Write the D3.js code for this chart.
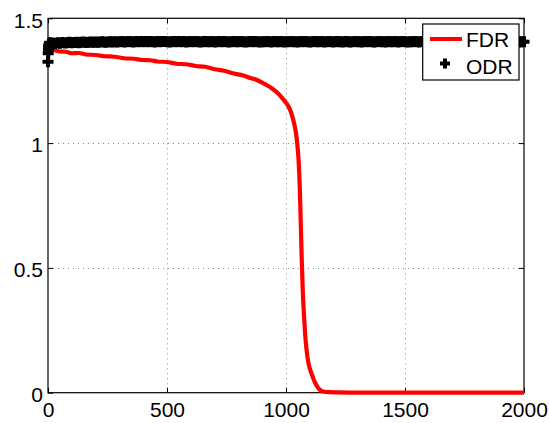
<!DOCTYPE html>
<html>
<head>
<meta charset="utf-8">
<script src="https://cdn.jsdelivr.net/npm/d3@7"></script>
<style>
  body { margin: 0; background: #fff; }
  svg { display: block; font-family: "Liberation Sans", Arial, Helvetica, sans-serif; }
</style>
</head>
<body>
<svg id="chart" width="549" height="423"></svg>
<script>
// ---- data ----
var xTicks = [0, 500, 1000, 1500, 2000];
var yTicks = [0, 0.5, 1, 1.5];
var yTickLabels = ["0", "0.5", "1", "1.5"];
var seriesNames = ["FDR", "ODR"];

// FDR (red line)
var fdrX = [0, 10, 25, 50, 75, 100, 130, 160, 200, 240, 280, 320, 360, 400, 430, 460, 500, 540, 580,
  620, 660, 700, 740, 780, 820, 850, 880, 910, 940, 970, 987, 1000, 1015, 1025, 1035, 1042, 1048,
  1053, 1058, 1062, 1066, 1070, 1075, 1080, 1086, 1094, 1103, 1112, 1120, 1128, 1136, 1145, 1160,
  1180, 1220, 1300, 1500, 2000];
var fdrY = [1.380, 1.375, 1.373, 1.367, 1.366, 1.360, 1.361, 1.355, 1.353, 1.348, 1.346, 1.340, 1.338,
  1.333, 1.332, 1.327, 1.325, 1.318, 1.316, 1.309, 1.306, 1.296, 1.290, 1.279, 1.271, 1.261, 1.252,
  1.237, 1.220, 1.196, 1.177, 1.162, 1.138, 1.112, 1.075, 1.040, 0.990, 0.930, 0.820, 0.680, 0.540,
  0.420, 0.320, 0.240, 0.175, 0.120, 0.088, 0.064, 0.045, 0.030, 0.018, 0.010, 0.004, 0.002, 0.001,
  0, 0, 0];

// ODR (black + markers): first iterations, then one value every 10 iterations from 10 to 2000
var odrHeadX = [0, 1, 2, 3, 4, 5, 6, 8];
var odrHeadY = [1.326, 1.360, 1.375, 1.385, 1.390, 1.395, 1.400, 1.402];
var odrStep = 10;
var odrY = [
  1.398,1.401,1.399,1.402,1.400,1.403,1.401,1.402,1.404,1.402,1.403,1.404,1.402,1.404,1.405,1.403,1.404,1.405,1.404,1.405,
  1.404,1.405,1.406,1.404,1.405,1.406,1.405,1.406,1.405,1.406,1.407,1.405,1.406,1.407,1.406,1.405,1.407,1.406,1.407,1.406,
  1.407,1.406,1.407,1.406,1.405,1.407,1.406,1.407,1.407,1.406,1.405,1.406,1.407,1.406,1.407,1.406,1.407,1.405,1.406,1.407,
  1.406,1.407,1.406,1.405,1.406,1.407,1.406,1.406,1.407,1.405,1.406,1.407,1.406,1.407,1.406,1.405,1.406,1.407,1.406,1.406,
  1.407,1.406,1.405,1.406,1.407,1.406,1.407,1.406,1.405,1.406,1.406,1.407,1.406,1.405,1.407,1.406,1.406,1.407,1.405,1.406,
  1.406,1.407,1.406,1.406,1.405,1.407,1.406,1.407,1.406,1.405,1.406,1.407,1.406,1.406,1.407,1.405,1.406,1.407,1.406,1.405,
  1.407,1.406,1.406,1.405,1.407,1.406,1.405,1.406,1.407,1.406,1.406,1.405,1.407,1.406,1.407,1.406,1.405,1.406,1.407,1.406,
  1.406,1.405,1.407,1.406,1.406,1.407,1.405,1.406,1.407,1.406,1.405,1.406,1.406,1.407,1.406,1.405,1.407,1.406,1.406,1.407,
  1.405,1.406,1.407,1.406,1.405,1.406,1.407,1.406,1.406,1.405,1.407,1.406,1.406,1.407,1.405,1.406,1.407,1.406,1.405,1.406,
  1.407,1.406,1.406,1.405,1.406,1.407,1.406,1.405,1.407,1.406,1.406,1.407,1.405,1.406,1.406,1.407,1.406,1.405,1.406,1.406
];

(function () {
  // ---- layout ----
  var padL = 48, padR = 524, padT = 18.3, padB = 392.7;
  var svg = d3.select("#chart");

  var x = d3.scaleLinear().domain([0, 2000]).range([padL, padR]);
  var y = d3.scaleLinear().domain([0, 1.5]).range([padB, padT]);

  // dotted grid
  var grid = svg.append("g").attr("stroke", "#8a8a8a").attr("stroke-width", 1)
    .attr("stroke-dasharray", "1,4").attr("fill", "none");
  grid.selectAll(".gx").data(xTicks.slice(1, -1)).enter().append("line")
    .attr("x1", function(d) { return Math.round(x(d)) + 0.5; })
    .attr("x2", function(d) { return Math.round(x(d)) + 0.5; })
    .attr("y1", padT).attr("y2", padB);
  grid.selectAll(".gy").data(yTicks.slice(1, -1)).enter().append("line")
    .attr("y1", function(d) { return Math.round(y(d)) + 0.5; })
    .attr("y2", function(d) { return Math.round(y(d)) + 0.5; })
    .attr("x1", padL).attr("x2", padR);

  // axes: ticks pointing inward on all four sides
  function styleAxis(g) {
    g.select(".domain").remove();
    g.selectAll("line").attr("stroke", "#000");
    g.selectAll("text").attr("fill", "#000").style("font-size", "21px");
  }
  svg.append("g").attr("transform", "translate(0," + padB + ")")
    .call(d3.axisBottom(x).tickValues(xTicks).tickSizeInner(-5).tickSizeOuter(0).tickFormat(d3.format("d")))
    .call(styleAxis)
    .call(function(g) { g.selectAll("text").attr("y", 24.6).attr("dy", null); });
  svg.append("g").attr("transform", "translate(0," + padT + ")")
    .call(d3.axisTop(x).tickValues(xTicks).tickSizeInner(-5).tickSizeOuter(0).tickFormat(""))
    .call(styleAxis);
  svg.append("g").attr("transform", "translate(" + padL + ",0)")
    .call(d3.axisLeft(y).tickValues(yTicks).tickSizeInner(-5).tickSizeOuter(0)
      .tickFormat(function(d, i) { return yTickLabels[i]; }))
    .call(styleAxis)
    .call(function(g) { g.selectAll("text").attr("x", -5).attr("dy", null).attr("y", 8.7); });
  svg.append("g").attr("transform", "translate(" + padR + ",0)")
    .call(d3.axisRight(y).tickValues(yTicks).tickSizeInner(-5).tickSizeOuter(0).tickFormat(""))
    .call(styleAxis);

  // box
  svg.append("rect").attr("x", padL).attr("y", padT)
    .attr("width", padR - padL).attr("height", padB - padT)
    .attr("fill", "none").attr("stroke", "#000").attr("stroke-width", 1.2);

  // FDR line
  var fdr = fdrX.map(function(d, i) { return [d, fdrY[i]]; });
  svg.append("path").datum(fdr)
    .attr("fill", "none").attr("stroke", "#ff0000").attr("stroke-width", 4.2)
    .attr("stroke-linejoin", "round")
    .attr("d", d3.line().curve(d3.curveMonotoneX)
      .x(function(d) { return x(d[0]); }).y(function(d) { return y(d[1]); }));

  // ODR markers (densely packed, so they merge into a solid band)
  var odr = odrHeadX.map(function(d, i) { return [d, odrHeadY[i]]; })
    .concat(odrY.map(function(v, i) { return [(i + 1) * odrStep, v]; }));
  var odrBody = odr.filter(function(d) { return d[0] >= 10; });
  svg.append("path").datum(odrBody)
    .attr("fill", "none").attr("stroke", "#000").attr("stroke-width", 10)
    .attr("stroke-linejoin", "round")
    .attr("d", d3.line().x(function(d) { return x(d[0]); }).y(function(d) { return y(d[1]); }));
  var plus = "M-5.5,0H5.5M0,-5.5V5.5";
  svg.append("g")
    .selectAll("path").data(odr).enter().append("path")
    .attr("d", plus)
    .attr("transform", function(d) { return "translate(" + x(d[0]) + "," + y(d[1]) + ")"; })
    .attr("stroke", "#000").attr("stroke-width", 4).attr("fill", "none");

  // legend
  var lg = svg.append("g");
  lg.append("rect").attr("x", 422.7).attr("y", 24).attr("width", 96.3).attr("height", 56)
    .attr("fill", "#fff").attr("stroke", "#000").attr("stroke-width", 1.2);
  lg.append("line").attr("x1", 430).attr("x2", 462).attr("y1", 39).attr("y2", 39)
    .attr("stroke", "#ff0000").attr("stroke-width", 4);
  lg.append("path").attr("d", "M-5,0H5M0,-5V5").attr("transform", "translate(445,63.5)")
    .attr("stroke", "#000").attr("stroke-width", 4).attr("fill", "none");
  lg.selectAll("text").data(seriesNames).enter().append("text")
    .attr("x", 466).attr("y", function(d, i) { return i === 0 ? 46.7 : 74; })
    .style("font-size", "21px").attr("fill", "#000")
    .text(function(d) { return d; });
})();
</script>
</body>
</html>
